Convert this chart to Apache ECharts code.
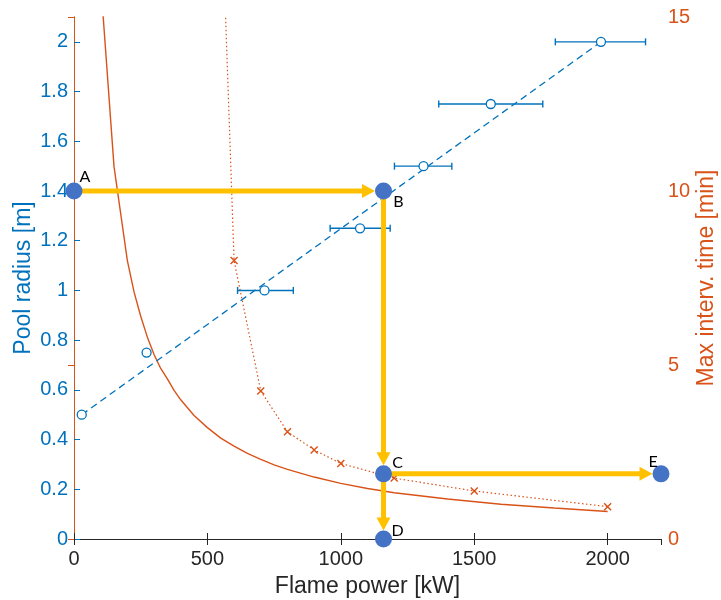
<!DOCTYPE html>
<html>
<head>
<meta charset="utf-8">
<script src="https://cdn.jsdelivr.net/npm/echarts@6/dist/echarts.min.js"></script>
<style>html,body{margin:0;padding:0;background:#fff;}#c{width:721px;height:600px;}</style>
</head>
<body>
<div id="c"></div>
<script>
// ---- data ----
// Measured pool radius vs flame power, with horizontal error bars (left axis)
const radiusY   = [0.5, 0.75, 1.0, 1.25, 1.5, 1.75, 2.0];
const powerX    = [29, 272, 714, 1072, 1310, 1562, 1975];
const powerLo   = [21, 263, 613, 960, 1201, 1367, 1804];
const powerHi   = [37, 281, 822, 1185, 1416, 1757, 2142];
// Linear fit (dashed)
const fitX = [29, 1975];
const fitY = [0.5, 2.0];
// Max intervention time, solid curve (right axis)
const solidX = [100, 150, 200, 225, 250, 275, 300, 325, 350, 375, 400, 450, 500, 550, 600, 650, 700, 750, 800, 900, 1000, 1100, 1200, 1400, 1600, 1800, 2000];
const solidY = [16, 10.7, 8.0, 7.1, 6.4, 5.8, 5.3, 4.9, 4.6, 4.27, 4.0, 3.55, 3.2, 2.9, 2.67, 2.46, 2.29, 2.13, 2.0, 1.78, 1.6, 1.45, 1.33, 1.15, 1.0, 0.89, 0.79];
// Max intervention time, dotted curve (right axis)
const dotX = [550, 600, 700, 800, 900, 1000, 1200, 1500, 2000];
const dotY = [19, 8.0, 4.25, 3.08, 2.56, 2.17, 1.75, 1.38, 0.93];
// cross markers on the dotted curve
const crossX = [600, 700, 800, 900, 1000, 1200, 1500, 2000];
const crossY = [8.0, 4.25, 3.08, 2.56, 2.17, 1.75, 1.38, 0.93];
// Reading path points (left-axis units)
const pointNames = ['A', 'B', 'C', 'D', 'E'];
const pointX = [0, 1160, 1160, 1160, 2200];
const pointY = [1.4, 1.4, 0.262, 0, 0.262];
const arrowPairs = [['A', 'B'], ['B', 'C'], ['C', 'E'], ['C', 'D']];
// axis ticks
const xTicks = {min: 0, max: 2200, interval: 500};
const yLeftTicks = {min: 0, max: 2.1, interval: 0.2};
const yRightTicks = {min: 0, max: 15, interval: 5};

// ---- styles ----
const BLUE = '#0072BD', ORANGE = '#D95319', DARK = '#262626', YELLOW = '#FFC000', PT = '#4472C4';
const FONT = 'Liberation Sans';
const labelOffsets = {A: [11, -14], B: [15, 11], C: [14, -11], D: [14, -8], E: [-8, -12]};

const zip = (a, b) => a.map((v, i) => [v, b[i]]);
const idx = n => pointNames.indexOf(n);
const arrowData = arrowPairs.map(([f, t]) => [pointX[idx(f)], pointY[idx(f)], pointX[idx(t)], pointY[idx(t)]]);
const errData = radiusY.map((y, i) => [powerLo[i], powerHi[i], y]);

const chart = echarts.init(document.getElementById('c'), null, {renderer: 'canvas'});
const option = {
  backgroundColor: '#fff',
  animation: false,
  grid: {left: 74, right: 60, top: 17, bottom: 61, containLabel: false, outerBoundsMode: 'none'},
  xAxis: [{
    type: 'value', position: 'bottom', min: xTicks.min, max: xTicks.max, interval: xTicks.interval,
    splitLine: {show: false},
    axisLine: {lineStyle: {color: DARK, width: 1}},
    axisTick: {inside: true, length: 6, lineStyle: {color: DARK}},
    axisLabel: {color: DARK, fontFamily: FONT, fontSize: 20, margin: 10, showMaxLabel: false,
      formatter: v => String(v)},
    name: 'Flame power [kW]', nameLocation: 'middle', nameGap: 36, nameMoveOverlap: false,
    nameTextStyle: {color: DARK, fontFamily: FONT, fontSize: 23}
  }, {
    type: 'value', position: 'top', min: xTicks.min, max: xTicks.max, interval: xTicks.interval,
    splitLine: {show: false},
    axisLine: {lineStyle: {color: DARK, width: 1}},
    axisTick: {inside: true, length: 6, lineStyle: {color: DARK}},
    axisLabel: {show: false}
  }],
  yAxis: [{
    type: 'value', position: 'left', min: yLeftTicks.min, max: yLeftTicks.max, interval: yLeftTicks.interval,
    splitLine: {show: false},
    axisLine: {show: true, lineStyle: {color: BLUE, width: 1}},
    axisTick: {show: true, inside: true, length: 6, lineStyle: {color: BLUE}},
    axisLabel: {color: BLUE, fontFamily: FONT, fontSize: 20, margin: 6, showMaxLabel: false,
      formatter: v => String(Math.round(v * 10) / 10)},
    name: 'Pool radius [m]', nameLocation: 'middle', nameGap: 39, nameRotate: 90, nameMoveOverlap: false,
    nameTextStyle: {color: BLUE, fontFamily: FONT, fontSize: 23}
  }, {
    type: 'value', position: 'right', min: yRightTicks.min, max: yRightTicks.max, interval: yRightTicks.interval,
    splitLine: {show: false},
    axisLine: {show: true, lineStyle: {color: ORANGE, width: 1}},
    axisTick: {show: true, inside: true, length: 6, lineStyle: {color: ORANGE}},
    axisLabel: {color: ORANGE, fontFamily: FONT, fontSize: 20, margin: 7},
    name: 'Max interv. time [min]', nameLocation: 'middle', nameGap: 34, nameRotate: 90, nameMoveOverlap: false,
    nameTextStyle: {color: ORANGE, fontFamily: FONT, fontSize: 23}
  }],
  series: [
    {
      type: 'line', yAxisIndex: 1, data: zip(solidX, solidY), showSymbol: false, symbol: 'none',
      lineStyle: {color: ORANGE, width: 1.4}, clip: true, z: 2
    },
    {
      type: 'line', yAxisIndex: 1, data: zip(dotX, dotY), showSymbol: false, symbol: 'none',
      lineStyle: {color: ORANGE, width: 1.2, type: [1.5, 2.5]}, clip: true, z: 2
    },
    {
      type: 'scatter', yAxisIndex: 1, data: zip(crossX, crossY),
      symbol: 'path://M0,0L10,10M10,0L0,10', symbolSize: 7,
      itemStyle: {color: 'none', borderColor: ORANGE, borderWidth: 1.4, opacity: 1}, z: 3
    },
    {
      type: 'line', yAxisIndex: 0, data: zip(fitX, fitY), showSymbol: false, symbol: 'none',
      lineStyle: {color: BLUE, width: 1.3, type: [7, 4.5]}, z: 3
    },
    {
      type: 'custom', yAxisIndex: 0, data: errData, encode: {x: [0, 1], y: 2}, z: 4,
      renderItem: function (params, api) {
        const y = api.value(2);
        const p1 = api.coord([api.value(0), y]);
        const p2 = api.coord([api.value(1), y]);
        const h = 3.5;
        const st = {stroke: BLUE, lineWidth: 1.4};
        return {type: 'group', children: [
          {type: 'line', shape: {x1: p1[0], y1: p1[1], x2: p2[0], y2: p2[1]}, style: st},
          {type: 'line', shape: {x1: p1[0], y1: p1[1] - h, x2: p1[0], y2: p1[1] + h}, style: st},
          {type: 'line', shape: {x1: p2[0], y1: p2[1] - h, x2: p2[0], y2: p2[1] + h}, style: st}
        ]};
      }
    },
    {
      type: 'scatter', yAxisIndex: 0, data: zip(powerX, radiusY), symbol: 'circle', symbolSize: 9,
      itemStyle: {color: '#fff', borderColor: BLUE, borderWidth: 1.3, opacity: 1}, z: 5
    },
    {
      type: 'custom', yAxisIndex: 0, data: arrowData, encode: {x: [0, 2], y: [1, 3]}, z: 6, clip: false,
      renderItem: function (params, api) {
        const s = api.coord([api.value(0), api.value(1)]);
        const e = api.coord([api.value(2), api.value(3)]);
        const dx = e[0] - s[0], dy = e[1] - s[1];
        const len = Math.sqrt(dx * dx + dy * dy);
        const ux = dx / len, uy = dy / len;
        const r = 8.5, L = 13, W = 7;
        const tip = [e[0] - ux * r, e[1] - uy * r];
        const base = [tip[0] - ux * L, tip[1] - uy * L];
        const px = -uy, py = ux;
        return {type: 'group', children: [
          {type: 'line', shape: {x1: s[0], y1: s[1], x2: base[0] + ux * 1, y2: base[1] + uy * 1},
            style: {stroke: YELLOW, lineWidth: 5}},
          {type: 'polygon', shape: {points: [tip, [base[0] + px * W, base[1] + py * W], [base[0] - px * W, base[1] - py * W]]},
            style: {fill: YELLOW}}
        ]};
      }
    },
    {
      type: 'scatter', yAxisIndex: 0, clip: false, z: 7, symbol: 'circle', symbolSize: 17,
      itemStyle: {color: PT, opacity: 1},
      data: pointNames.map((n, i) => ({
        value: [pointX[i], pointY[i]], name: n,
        label: {show: true, position: 'inside', offset: labelOffsets[n], formatter: n,
          color: '#000', fontFamily: 'Lato', fontSize: 16, align: 'center', verticalAlign: 'middle'}
      }))
    }
  ]
};
chart.setOption(option);
</script>
</body>
</html>
